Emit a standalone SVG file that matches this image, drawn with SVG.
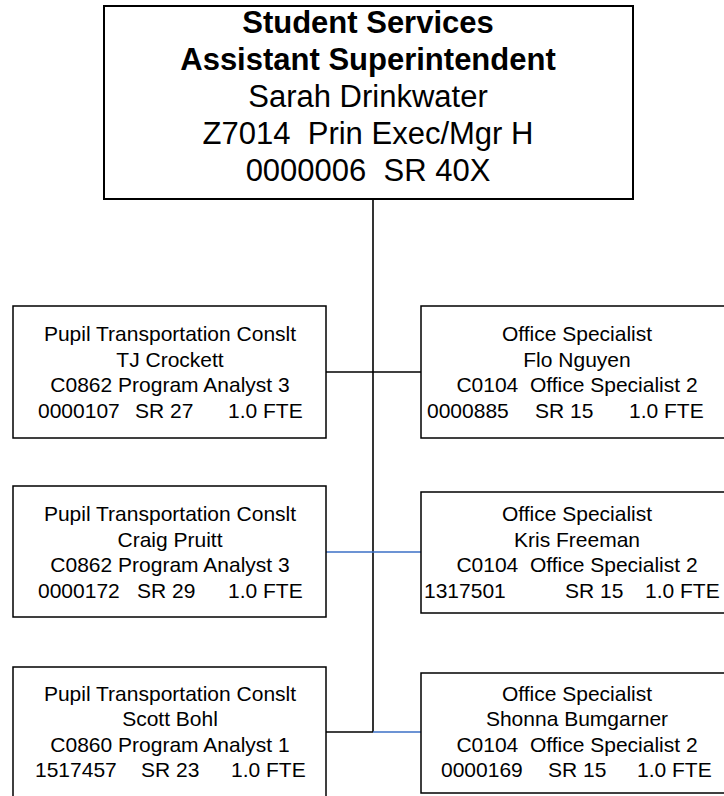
<svg xmlns="http://www.w3.org/2000/svg" width="724" height="796" viewBox="0 0 724 796">
<style>
.box{fill:#fff;stroke:#000;stroke-width:1.5}
.top{fill:#fff;stroke:#000;stroke-width:2}
.t{font-family:"Liberation Sans",Arial,sans-serif;font-size:21px;fill:#000}
.c{text-anchor:middle}
.h{font-family:"Liberation Sans",Arial,sans-serif;font-size:31px;fill:#000;text-anchor:middle}
.b{font-weight:bold}
.k{stroke:#000;stroke-width:1.6;fill:none}
.bl{stroke:#3B6FC6;stroke-width:1.3;fill:none}
</style>
<rect width="724" height="796" fill="#fff"/>
<g id="connectors">
<line class="k" x1="373" y1="199" x2="373" y2="732"/>
<line class="k" x1="326" y1="372" x2="421" y2="372"/>
<line class="bl" x1="326" y1="552" x2="421" y2="552"/>
<line class="k" x1="326" y1="732" x2="373" y2="732"/>
<line class="bl" x1="373" y1="732" x2="421" y2="732"/>
</g>
<g id="n0">
<rect class="top" x="104" y="6" width="529" height="193"/>
<text class="h b" x="368" y="33">Student Services</text>
<text class="h b" x="368" y="70">Assistant Superintendent</text>
<text class="h" x="368" y="107">Sarah Drinkwater</text>
<text class="h" x="368" y="144" style="white-space:pre">Z7014  Prin Exec/Mgr H</text>
<text class="h" x="368" y="181" style="white-space:pre">0000006  SR 40X</text>
</g>
<g id="n1">
<rect class="box" x="13" y="306" width="313" height="132"/>
<text class="t c" x="170" y="341">Pupil Transportation Conslt</text>
<text class="t c" x="170" y="367">TJ Crockett</text>
<text class="t c" x="170" y="392">C0862 Program Analyst 3</text>
<text class="t" y="418"><tspan x="38">0000107</tspan><tspan x="135">SR 27</tspan><tspan x="228">1.0 FTE</tspan></text>
</g>
<g id="n2">
<rect class="box" x="421" y="306" width="312" height="132"/>
<text class="t c" x="577" y="341">Office Specialist</text>
<text class="t c" x="577" y="367">Flo Nguyen</text>
<text class="t c" x="577" y="392" style="white-space:pre">C0104  Office Specialist 2</text>
<text class="t" y="418"><tspan x="427">0000885</tspan><tspan x="535">SR 15</tspan><tspan x="629">1.0 FTE</tspan></text>
</g>
<g id="n3">
<rect class="box" x="13" y="486" width="313" height="131"/>
<text class="t c" x="170" y="521">Pupil Transportation Conslt</text>
<text class="t c" x="170" y="547">Craig Pruitt</text>
<text class="t c" x="170" y="572">C0862 Program Analyst 3</text>
<text class="t" y="598"><tspan x="38">0000172</tspan><tspan x="137">SR 29</tspan><tspan x="228">1.0 FTE</tspan></text>
</g>
<g id="n4">
<rect class="box" x="421" y="492" width="312" height="121"/>
<text class="t c" x="577" y="521">Office Specialist</text>
<text class="t c" x="577" y="547">Kris Freeman</text>
<text class="t c" x="577" y="572" style="white-space:pre">C0104  Office Specialist 2</text>
<text class="t" y="598"><tspan x="424">1317501</tspan><tspan x="565">SR 15</tspan><tspan x="645">1.0 FTE</tspan></text>
</g>
<g id="n5">
<rect class="box" x="13" y="667" width="313" height="132"/>
<text class="t c" x="170" y="701">Pupil Transportation Conslt</text>
<text class="t c" x="170" y="726">Scott Bohl</text>
<text class="t c" x="170" y="752">C0860 Program Analyst 1</text>
<text class="t" y="777"><tspan x="35">1517457</tspan><tspan x="141">SR 23</tspan><tspan x="231">1.0 FTE</tspan></text>
</g>
<g id="n6">
<rect class="box" x="421" y="673" width="312" height="120"/>
<text class="t c" x="577" y="701">Office Specialist</text>
<text class="t c" x="577" y="726">Shonna Bumgarner</text>
<text class="t c" x="577" y="752" style="white-space:pre">C0104  Office Specialist 2</text>
<text class="t" y="777"><tspan x="441">0000169</tspan><tspan x="548">SR 15</tspan><tspan x="637">1.0 FTE</tspan></text>
</g>
</svg>
